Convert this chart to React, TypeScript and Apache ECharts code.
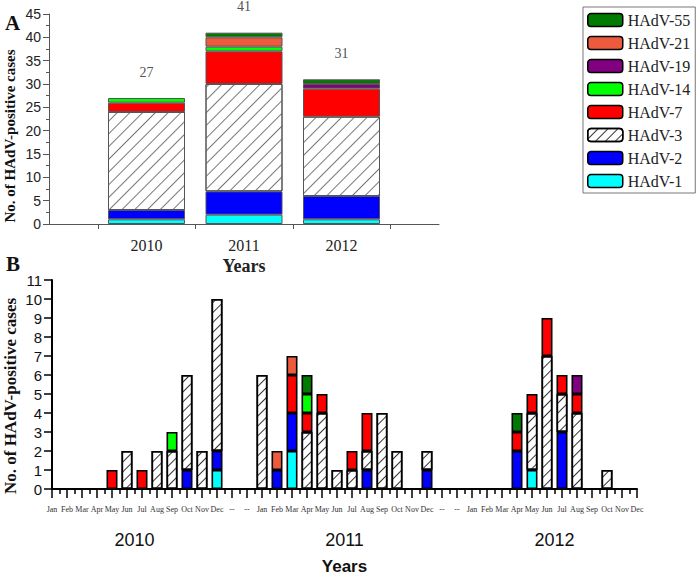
import React, { useEffect, useRef } from 'react';
import * as echarts from 'echarts';

// ---------- data ----------
const typeNames = ['HAdV-1', 'HAdV-2', 'HAdV-3', 'HAdV-7', 'HAdV-14', 'HAdV-19', 'HAdV-21', 'HAdV-55'];
const legendOrder = ['HAdV-55', 'HAdV-21', 'HAdV-19', 'HAdV-14', 'HAdV-7', 'HAdV-3', 'HAdV-2', 'HAdV-1'];
const typeColors = ['#00ffff', '#0000ff', '#ffffff', '#ff0000', '#00ff00', '#800080', '#ee5a3e', '#007a00'];

// Panel A: annual totals per type
const yearLabels = ['2010', '2011', '2012'];
const yearPositions = [1, 2, 3];
const annual1 = [1, 2, 1];
const annual2 = [2, 5, 5];
const annual3 = [21, 23, 17];
const annual7 = [2, 7, 6];
const annual14 = [1, 1, 0];
const annual19 = [0, 0, 1];
const annual21 = [0, 2, 0];
const annual55 = [0, 1, 1];
const annualSeries = [annual1, annual2, annual3, annual7, annual14, annual19, annual21, annual55];

// Panel B: monthly counts (2010 Jan-Dec, --, --, 2011 Jan-Dec, --, --, 2012 Jan-Dec)
const months = ['Jan', 'Feb', 'Mar', 'Apr', 'May', 'Jun', 'Jul', 'Aug', 'Sep', 'Oct', 'Nov', 'Dec'];
const monthLabels = [...months, '--', '--', ...months, '--', '--', ...months];
const yearStartIndex = [0, 14, 28];
const monthly1 = [0,0,0,0,0,0,0,0,0,0,0,1, 0,0, 0,0,2,0,0,0,0,0,0,0,0,0, 0,0, 0,0,0,0,1,0,0,0,0,0,0,0];
const monthly2 = [0,0,0,0,0,0,0,0,0,1,0,1, 0,0, 0,1,2,0,0,0,0,1,0,0,0,1, 0,0, 0,0,0,2,0,0,3,0,0,0,0,0];
const monthly3 = [0,0,0,0,0,2,0,2,2,5,2,8, 0,0, 6,0,0,3,4,1,1,1,4,2,0,1, 0,0, 0,0,0,0,3,7,2,4,0,1,0,0];
const monthly7 = [0,0,0,0,1,0,1,0,0,0,0,0, 0,0, 0,0,2,1,1,0,1,2,0,0,0,0, 0,0, 0,0,0,1,1,2,1,1,0,0,0,0];
const monthly14 = [0,0,0,0,0,0,0,0,1,0,0,0, 0,0, 0,0,0,1,0,0,0,0,0,0,0,0, 0,0, 0,0,0,0,0,0,0,0,0,0,0,0];
const monthly19 = [0,0,0,0,0,0,0,0,0,0,0,0, 0,0, 0,0,0,0,0,0,0,0,0,0,0,0, 0,0, 0,0,0,0,0,0,0,1,0,0,0,0];
const monthly21 = [0,0,0,0,0,0,0,0,0,0,0,0, 0,0, 0,1,1,0,0,0,0,0,0,0,0,0, 0,0, 0,0,0,0,0,0,0,0,0,0,0,0];
const monthly55 = [0,0,0,0,0,0,0,0,0,0,0,0, 0,0, 0,0,0,1,0,0,0,0,0,0,0,0, 0,0, 0,0,0,1,0,0,0,0,0,0,0,0];
const monthlySeries = [monthly1, monthly2, monthly3, monthly7, monthly14, monthly19, monthly21, monthly55];

const SERIF = 'Liberation Serif';
const SANS = 'Liberation Sans';

export default function App() {
  const ref = useRef<HTMLDivElement>(null);

  useEffect(() => {
    if (!ref.current) return;
    const chart = echarts.init(ref.current, null, { renderer: 'svg' });

    const hatchA = {
      symbol: 'rect', symbolSize: 1, color: '#777', backgroundColor: '#fff',
      dashArrayX: [[12, 0]], dashArrayY: [1, 8], rotation: -Math.PI / 4,
    };
    const hatchB = {
      symbol: 'rect', symbolSize: 1, color: '#333', backgroundColor: '#fff',
      dashArrayX: [[12, 0]], dashArrayY: [1, 6], rotation: -Math.PI / 4,
    };

    const totals = yearPositions.map((_, i) => annualSeries.reduce((s, arr) => s + arr[i], 0));

    // data stored as [value, position] so the value dimension is the stacked one
    const seriesB = typeNames.map((name, k) => ({
      name,
      type: 'bar',
      xAxisIndex: 1,
      yAxisIndex: 1,
      stack: 'monthly',
      barWidth: 11,
      encode: { x: 1, y: 0 },
      itemStyle: {
        color: typeColors[k],
        borderColor: '#000',
        borderWidth: 1.6,
        ...(name === 'HAdV-3' ? { decal: hatchB } : {}),
      },
      data: monthlySeries[k].map((v, i) => [v === 0 ? '-' : v, i]),
    }));

    const seriesA = typeNames.map((name, k) => ({
      name,
      type: 'bar',
      xAxisIndex: 0,
      yAxisIndex: 0,
      stack: 'annual',
      barWidth: 77,
      encode: { x: 1, y: 0 },
      itemStyle: {
        color: typeColors[k],
        borderColor: '#555',
        borderWidth: 1,
        ...(name === 'HAdV-3' ? { decal: hatchA } : {}),
      },
      data: annualSeries[k].map((v, i) => [v === 0 ? '-' : v, yearPositions[i]]),
    }));

    const option: any = {
      animation: false,
      legend: {
        data: legendOrder,
        orient: 'vertical',
        left: 583,
        top: 7,
        padding: [5, 5, 4, 4],
        itemWidth: 35,
        itemHeight: 13,
        itemGap: 7,
        borderColor: '#777',
        borderWidth: 1,
        itemStyle: { borderColor: '#000', borderWidth: 1.5 },
        textStyle: { fontFamily: SERIF, fontSize: 16, color: '#222' },
        selectedMode: false,
      },
      grid: [
        { left: 49, right: 258, top: 14, bottom: 352 },
        { left: 52, right: 60, top: 280, bottom: 86 },
      ],
      xAxis: [
        {
          gridIndex: 0, type: 'value', min: 0, max: 4, interval: 1,
          axisLine: { show: true, onZero: false, lineStyle: { color: '#555', width: 1 } },
          axisTick: { show: false },
          minorTick: { show: true, splitNumber: 2, length: 5, lineStyle: { color: '#555', width: 1 } },
          splitLine: { show: false },
          axisLabel: {
            margin: 13, fontFamily: SERIF, fontSize: 16, color: '#222',
            showMinLabel: true, showMaxLabel: true,
            formatter: (v: number) => {
              const i = yearPositions.indexOf(v);
              return i >= 0 ? yearLabels[i] : '';
            },
          },
          name: 'Years', nameLocation: 'middle', nameGap: 33,
          nameTextStyle: { fontFamily: SERIF, fontWeight: 'bold', fontSize: 18, color: '#222' },
        },
        {
          gridIndex: 1, type: 'value', min: 0, max: monthLabels.length - 1, interval: 1,
          axisLine: { show: true, onZero: false, lineStyle: { color: '#000', width: 2 } },
          axisTick: { show: true, length: 9, lineStyle: { color: '#000', width: 1.5 } },
          minorTick: { show: true, splitNumber: 2, length: 5, lineStyle: { color: '#000', width: 1.5 } },
          splitLine: { show: false },
          axisLabel: {
            margin: 16, fontFamily: SERIF, fontSize: 8, color: '#333',
            showMinLabel: true, showMaxLabel: true,
            formatter: (v: number) => monthLabels[v] ?? '',
          },
        },
        {
          gridIndex: 1, type: 'value', min: 0, max: monthLabels.length - 1, interval: 0.5,
          position: 'bottom',
          axisLine: { show: false }, axisTick: { show: false }, splitLine: { show: false },
          axisLabel: {
            margin: 42, fontFamily: SANS, fontSize: 18, color: '#111',
            formatter: (v: number) => {
              const i = yearStartIndex.findIndex((s) => s + 5.5 === v);
              return i >= 0 ? yearLabels[i] : '';
            },
          },
          name: 'Years', nameLocation: 'middle', nameGap: 69,
          nameTextStyle: { fontFamily: SANS, fontWeight: 'bold', fontSize: 17, color: '#111' },
        },
      ],
      yAxis: [
        {
          gridIndex: 0, type: 'value', min: 0, max: 45, interval: 5,
          axisLine: { show: true, lineStyle: { color: '#555', width: 1 } },
          axisTick: { show: true, length: 6, lineStyle: { color: '#555' } },
          minorTick: { show: true, splitNumber: 2, length: 3, lineStyle: { color: '#555' } },
          splitLine: { show: false },
          axisLabel: { margin: 8, fontFamily: SANS, fontSize: 14, color: '#222' },
        },
        {
          gridIndex: 1, type: 'value', min: 0, max: 11, interval: 1,
          axisLine: { show: true, lineStyle: { color: '#000', width: 2 } },
          axisTick: { show: true, length: 8, lineStyle: { color: '#000', width: 1.5 } },
          splitLine: { show: false },
          axisLabel: { margin: 10, fontFamily: SANS, fontSize: 15, color: '#111' },
        },
      ],
      series: [
        ...seriesB,
        ...seriesA,
        {
          name: 'total',
          type: 'scatter',
          xAxisIndex: 0,
          yAxisIndex: 0,
          symbolSize: 0,
          silent: true,
          label: {
            show: true, position: 'top', distance: 19,
            fontFamily: SERIF, fontSize: 14, color: '#222',
            formatter: (p: any) => String(p.value[1]),
          },
          data: yearPositions.map((x, i) => [x, totals[i]]),
        },
      ],
      graphic: [
        { type: 'text', left: 5, top: 12, style: { text: 'A', font: `bold 21px "${SERIF}"`, fill: '#111' } },
        { type: 'text', left: 6, top: 253, style: { text: 'B', font: `bold 21px "${SERIF}"`, fill: '#111' } },
        {
          type: 'text', x: 10, y: 136, rotation: Math.PI / 2,
          style: { text: 'No. of HAdV-positive cases', font: `bold 15px "${SERIF}"`, fill: '#111', textAlign: 'center', textVerticalAlign: 'middle' },
        },
        {
          type: 'text', x: 10, y: 396, rotation: Math.PI / 2,
          style: { text: 'No. of HAdV-positive cases', font: `bold 17px "${SERIF}"`, fill: '#111', textAlign: 'center', textVerticalAlign: 'middle' },
        },
      ],
    };

    chart.setOption(option);
    return () => chart.dispose();
  }, []);

  return (
    <div
      ref={ref}
      style={{ position: 'absolute', left: 0, top: 0, width: 697, height: 576, background: '#fff' }}
    />
  );
}
